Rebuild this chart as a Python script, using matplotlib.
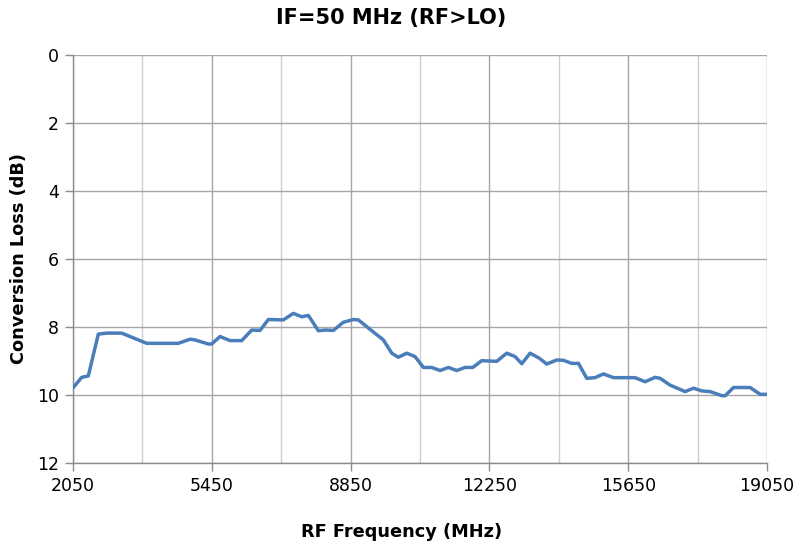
import matplotlib
matplotlib.use("Agg")
import matplotlib.pyplot as plt
import numpy as np

freq_mhz = [2050, 2263, 2425, 2670, 2875, 3243, 3447, 3855, 4630, 4917, 5039, 5365,
            5447, 5652, 5897, 6183, 6428, 6632, 6835, 7203, 7448, 7653, 7816, 8061,
            8224, 8428, 8673, 8918, 9040, 9327, 9653, 9858, 10020, 10225, 10429, 10633,
            10838, 11042, 11245, 11450, 11654, 11843, 12063, 12430, 12675, 12879, 13043,
            13247, 13475, 13656, 13901, 14063, 14268, 14431, 14636, 14839, 15043, 15289,
            15819, 16064, 16309, 16432, 16677, 17044, 17247, 17453, 17657, 17944, 18025,
            18229, 18637, 18882, 19045]
loss_db = [9.79, 9.48, 9.44, 8.21, 8.18, 8.18, 8.28, 8.48, 8.48, 8.36, 8.38, 8.50,
           8.50, 8.28, 8.40, 8.40, 8.09, 8.10, 7.78, 7.79, 7.60, 7.70, 7.66, 8.11,
           8.09, 8.10, 7.86, 7.78, 7.79, 8.07, 8.38, 8.77, 8.89, 8.77, 8.87, 9.19,
           9.19, 9.28, 9.19, 9.28, 9.19, 9.19, 8.99, 9.01, 8.77, 8.87, 9.08,
           8.77, 8.92, 9.09, 8.97, 8.98, 9.07, 9.07, 9.51, 9.49, 9.38, 9.49,
           9.49, 9.61, 9.48, 9.51, 9.71, 9.90, 9.80, 9.88, 9.90, 10.02, 10.02,
           9.78, 9.78, 9.98, 9.98]

x_ticks = [2050, 5450, 8850, 12250, 15650, 19050]
x_minor = [3750, 7150, 10550, 13950, 17350]
y_ticks = [0, 2, 4, 6, 8, 10, 12]

fig = plt.figure(figsize=(8.11, 5.46), dpi=100)
ax = fig.add_axes([73/811, 1 - 463/546, (767-73)/811, (463-55)/546])

ax.plot(freq_mhz, loss_db, color="#4a7ebb", lw=2.5, solid_joinstyle="round",
        solid_capstyle="round", zorder=3)

ax.set_xlim(2050, 19050)
ax.set_ylim(12, 0)
ax.set_xticks(x_ticks)
ax.set_xticks(x_minor, minor=True)
ax.set_yticks(y_ticks)
ax.set_xticklabels([str(v) for v in x_ticks])
ax.set_yticklabels([str(v) for v in y_ticks])

ax.grid(True, which="major", axis="x", color="#a6a6a6", lw=1.0, zorder=1)
ax.grid(True, which="minor", axis="x", color="#d0d0d0", lw=1.0, zorder=1)
ax.grid(True, which="major", axis="y", color="#a6a6a6", lw=1.0, zorder=1)

for s in ["top", "right"]:
    ax.spines[s].set_visible(False)
for s in ["left", "bottom"]:
    ax.spines[s].set_color("#8c8c8c")
    ax.spines[s].set_linewidth(1.0)

ax.tick_params(axis="both", which="major", length=6, width=1, color="#8c8c8c",
               labelsize=12.5, labelcolor="black", pad=4)
ax.tick_params(axis="x", which="minor", length=0)

fig.text(391/811, 1 - 18/546, "IF=50 MHz (RF>LO)", fontsize=15, fontweight="bold",
         ha="center", va="center")
fig.text(402/811, 1 - 532/546, "RF Frequency (MHz)", fontsize=12.8, fontweight="bold",
         ha="center", va="center")
fig.text(19/811, 1 - 259/546, "Conversion Loss (dB)", fontsize=12.8, fontweight="bold",
         ha="center", va="center", rotation=90)

fig.savefig("out.png", dpi=100)
